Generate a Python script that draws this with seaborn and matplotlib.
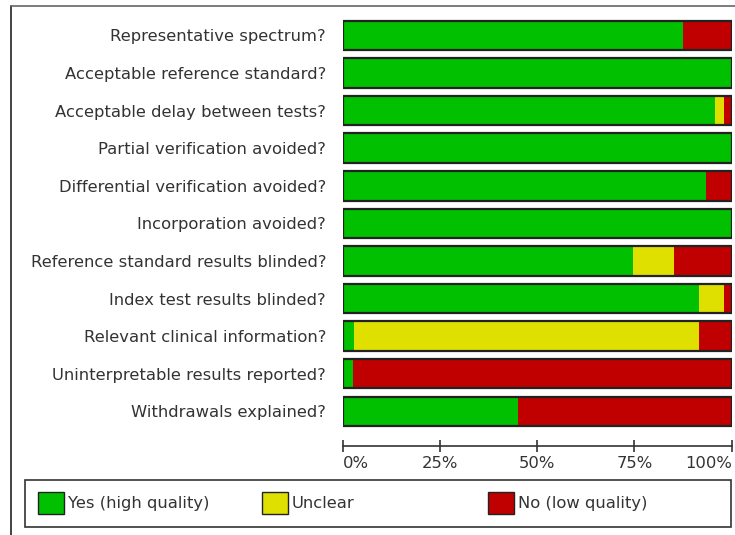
import numpy as np
import pandas as pd
import matplotlib
matplotlib.use("Agg")
import matplotlib.pyplot as plt
from matplotlib.patches import Patch, Rectangle
from matplotlib.lines import Line2D
import seaborn as sns

QUESTIONS = ['Representative spectrum?', 'Acceptable reference standard?',
             'Acceptable delay between tests?', 'Partial verification avoided?',
             'Differential verification avoided?', 'Incorporation avoided?',
             'Reference standard results blinded?', 'Index test results blinded?',
             'Relevant clinical information?', 'Uninterpretable results reported?',
             'Withdrawals explained?']
YES = [87.5, 100, 95.8, 100, 93.5, 100, 74.5, 91.5, 2.9, 2.6, 45.0]
UNCLEAR = [0, 0, 2.1, 0, 0, 0, 10.6, 6.4, 88.7, 0, 0]
NO = [12.5, 0, 2.1, 0, 6.5, 0, 14.9, 2.1, 8.4, 97.4, 55.0]
LEGEND_LABELS = ['Yes (high quality)', 'Unclear', 'No (low quality)']
TICKS = [0, 25, 50, 75, 100]
TICK_LABELS = ['0%', '25%', '50%', '75%', '100%']

GREEN, YELLOW, RED = '#00c000', '#e0e000', '#c00000'
FS = 11.8
TEXT = '#333333'

sns.set_style("white")
plt.rcParams['font.family'] = ['DejaVu Sans']

df = pd.DataFrame({'question': QUESTIONS, 'yes': YES, 'unclear': UNCLEAR, 'no': NO})
df['cum_unclear'] = df.yes + df.unclear
df['cum_no'] = df.cum_unclear + df.no

fig = plt.figure(figsize=(7.35, 5.35), dpi=100)
ax = fig.add_axes([342.7 / 735, (535 - 445.7) / 535, 389 / 735, 429 / 535])

# stacked by overlaying cumulative totals, then one outline per bar
for col, colour in [('cum_no', RED), ('cum_unclear', YELLOW), ('yes', GREEN)]:
    sns.barplot(data=df, x=col, y='question', order=QUESTIONS, color=colour,
                width=0.785, linewidth=0, errorbar=None, saturation=1, ax=ax)
sns.barplot(data=df, x='cum_no', y='question', order=QUESTIONS, color='#222222',
            fill=False, width=0.785, linewidth=1.6, errorbar=None, ax=ax)

ax.set_xlim(0, 100)
ax.set_ylim(10.915, -0.5)
ax.set_xlabel('')
ax.set_ylabel('')
for side in ['top', 'right', 'left']:
    ax.spines[side].set_visible(False)
ax.spines['bottom'].set_color('#333333')
ax.spines['bottom'].set_linewidth(1.2)

ax.set_xticks(TICKS)
ax.set_xticklabels(TICK_LABELS)
ax.tick_params(axis='x', bottom=True, direction='inout', length=8.4, width=1.2, color='#333333',
               labelsize=FS, labelcolor=TEXT, pad=3)
ax.tick_params(axis='y', left=False, length=0, labelsize=FS, labelcolor=TEXT, pad=12)
labels = ax.get_xticklabels()
labels[0].set_ha('left')
labels[-1].set_ha('right')

# legend: one entry at a time inside a drawn box
fig.add_artist(Rectangle((25 / 735, (535 - 527) / 535), 706 / 735, 47 / 535,
                         transform=fig.transFigure, fill=False, edgecolor='#333333', linewidth=1.2))
for label, colour, xpix in zip(LEGEND_LABELS, [GREEN, YELLOW, RED], [38, 262, 488]):
    fig.legend(handles=[Patch(facecolor=colour, edgecolor='#222222', linewidth=1)],
               labels=[label], loc='center left', bbox_to_anchor=(xpix / 735, (535 - 503) / 535),
               frameon=False, fontsize=FS, handlelength=1.6, handleheight=1.7,
               handletextpad=0.2, borderpad=0, borderaxespad=0, labelcolor=TEXT)

# outer frame lines
fig.add_artist(Line2D([11 / 735, 11 / 735], [0, (535 - 6) / 535], transform=fig.transFigure,
                      color='#222222', linewidth=1.2))
fig.add_artist(Line2D([11 / 735, 1], [(535 - 6) / 535, (535 - 6) / 535], transform=fig.transFigure,
                      color='#666666', linewidth=1.2))

fig.savefig('out.png', dpi=100)
